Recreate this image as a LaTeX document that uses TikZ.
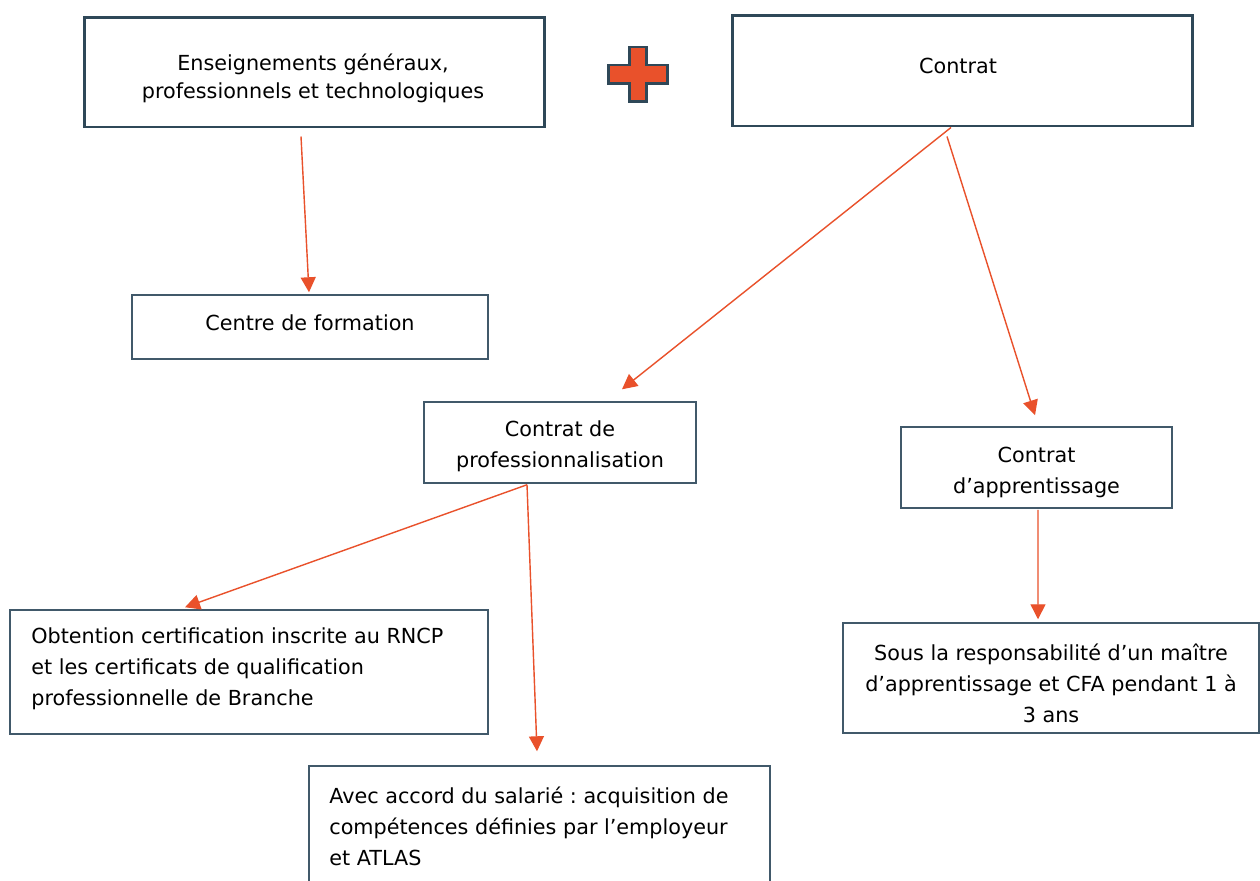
\documentclass[tikz,border=0pt]{standalone}
\usepackage{fontspec}
\setmainfont{DejaVu Sans}
\frenchspacing
\usetikzlibrary{arrows.meta}
\definecolor{arr}{HTML}{E9512B}
\definecolor{thickb}{HTML}{2F4858}
\definecolor{thinb}{HTML}{41596A}
\tikzset{
  boxthick/.style={draw=thickb, line width=1.7pt, rectangle, inner sep=0pt, align=center},
  boxthin/.style={draw=thinb, line width=0.85pt, rectangle, inner sep=0pt, align=center},
  txt/.style={align=center, inner sep=0pt},
  ltxt/.style={align=left, inner sep=0pt, anchor=west},
  conn/.style={draw=arr, line width=0.8pt, -{Triangle[length=0.3cm,width=0.3cm]}},
  every node/.style={font=\fontsize{11.8pt}{17.7pt}\selectfont}
}
\begin{document}
\begin{tikzpicture}[x=0.02cm,y=-0.02cm]
\clip (0,0) rectangle (1260,880);
\fill[white] (0,0) rectangle (1260,880);

\node[boxthick, minimum width=9.22cm, minimum height=2.2cm] (b1) at (314.5,72) {};
\node[txt, font=\fontsize{11.8pt}{15.9pt}\selectfont] (b1t) at (313,78)
  {Enseignements généraux,\\professionnels et technologiques};
\node[boxthick, minimum width=9.22cm, minimum height=2.22cm] (b2) at (962.5,70.5) {};
\node[txt] (b2t) at (958,66) {Contrat};
\node[boxthin, minimum width=7.12cm, minimum height=1.28cm] (b3) at (310,327) {};
\node[txt] (b3t) at (310,323) {Centre de formation};
\node[boxthin, minimum width=5.44cm, minimum height=1.62cm] (b4) at (560,442.5) {};
\node[txt] (b4t) at (560,446) {Contrat de\\professionnalisation};
\node[boxthin, minimum width=5.42cm, minimum height=1.62cm] (b5) at (1036.5,467.5) {};
\node[txt] (b5t) at (1036.5,472) {Contrat\\d’apprentissage};
\node[boxthin, minimum width=9.56cm, minimum height=2.48cm] (b6) at (249,672) {};
\node[ltxt] (b6t) at (31,669)
  {Obtention certification inscrite au RNCP\\et les certificats de qualification\\professionnelle de Branche};
\node[boxthin, minimum width=8.32cm, minimum height=2.2cm] (b7) at (1051,678) {};
\node[txt] (b7t) at (1051,683)
  {Sous la responsabilité d’un maître\\d’apprentissage et CFA pendant 1 à\\3 ans};
\node[boxthin, minimum width=9.22cm, minimum height=2.6cm] (b8) at (539.5,831) {};
\node[ltxt] (b8t) at (329,826.5)
  {Avec accord du salarié : acquisition de\\compétences définies par l’employeur\\et ATLAS};

% plus sign
\path[fill=arr, draw=thickb, line width=1.7pt, line join=miter]
  (629,47) -- (646,47) -- (646,65) -- (667,65) -- (667,83) -- (646,83) -- (646,101)
  -- (629,101) -- (629,83) -- (608,83) -- (608,65) -- (629,65) -- cycle;

% connectors
\draw[conn] ([shift={(-13.5,8)}]b1.south) -- ([shift={(-1,-2)}]b3.north);
\draw[conn] ([shift={(-11.5,0)}]b2.south) -- ([shift={(62,-12)}]b4.north);
\draw[conn] ([shift={(-15.5,9)}]b2.south) -- ([shift={(-1.5,-11)}]b5.north);
\draw[conn] ([shift={(-33,1)}]b4.south) -- ([shift={(-64,-2)}]b6.north);
\draw[conn] ([shift={(-33,1)}]b4.south) -- ([shift={(-2.5,-14)}]b8.north);
\draw[conn] ([shift={(1.5,1)}]b5.south) -- ([shift={(-13,-3)}]b7.north);
\end{tikzpicture}
\end{document}
